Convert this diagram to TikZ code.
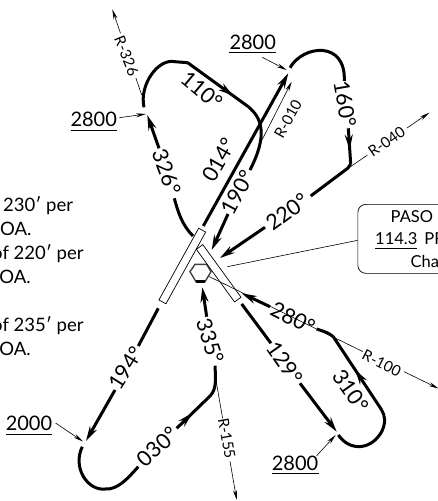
\documentclass[tikz,border=0pt]{standalone}
\usepackage{fontspec}
\setmainfont{Lato}
\usepackage{tikz}
\usetikzlibrary{
	arrows.meta,
	calc,
	decorations.markings
}
\tikzset{
	track/.style={line width=3pt, line cap=butt},
	tip/.style={-{Stealth[length=15pt,width=8pt]}},
	thin leader/.style={line width=0.6pt, -{Stealth[length=10pt,width=4pt]}},
	plain leader/.style={line width=0.6pt},
	midtip/.style={postaction={decorate}, decoration={markings, mark=at position #1 with {\arrow{Stealth[length=15pt,width=8pt]}}}},
	heading/.style={font=\fontsize{21.5}{22}\selectfont, inner sep=0pt},
	radial/.style={font=\fontsize{15}{16}\selectfont, inner sep=0pt},
	altitude/.style={font=\fontsize{20}{20}\selectfont, inner sep=0pt},
	note/.style={font=\fontsize{18.5}{19}\selectfont, inner sep=0pt, anchor=base west},
	boxtext/.style={font=\fontsize{16.5}{17}\selectfont, inner sep=0pt, anchor=base west},
	strip/.style={draw, fill=white, line width=0.7pt, inner sep=0pt, minimum height=8pt}
}
\begin{document}
\begin{tikzpicture}[x=1pt, y=-1pt]
        \useasboundingbox (0,0) rectangle (438,501);
        \clip (0,0) rectangle (438,501);

        % notes on the left, cut by the edge
        \node[note] (noteA) at (3,211) {230′ per};
        \node[note] (noteB) at (0,235) {OA.};
        \node[note] (noteC) at (-8,259) {of 220′ per};
        \node[note] (noteD) at (-13,283) {COA.};
        \node[note] (noteE) at (-8,331) {of 235′ per};
        \node[note] (noteF) at (-13,355) {COA.};

        % runways and station
        \node[strip, minimum width=82pt, rotate=61] (RWa) at (182.3,266) {};
        \draw[line width=1.4pt, black!75] (190,271.7) -- (195,264.3) -- (206.7,264.3) -- (211,271.7) -- (205,281.7) -- (196,281.7) -- cycle;
        \draw[line width=3pt] (196,281) -- (205,281);
        \node[strip, minimum width=65pt, rotate=-54] (RWb) at (218.7,273.3) {};

        % radials
        \coordinate (R100s) at (209,276.5);
        \coordinate (R100e) at (438.5,388.5);
        \node[radial, rotate=-27] (R100) at (381.7,363.3) {R-100};
        \draw[plain leader] (R100s) -- ($(R100s)!0.67!(R100e)$);
        \draw[thin leader] ($(R100s)!0.85!(R100e)$) -- (R100e);

        \coordinate (R326s) at (141.7,95);
        \coordinate (R326e) at (112.3,9.3);
        \coordinate (R326m) at (126.5,56);
        \draw[plain leader] (R326s) -- ($(R326s)!0.2!(R326e)$);
        \draw[thin leader] ($(R326s)!0.72!(R326e)$) -- (R326e);
        \node[radial, rotate=-68] (R326) at (R326m) {R-326};

        \coordinate (R010s) at (262,140);
        \coordinate (R010e) at (291.7,81.7);
        \node[radial, rotate=61] (R010) at (288,119) {R-010};
        \draw[thin leader] (R010s) -- (R010e);

        \coordinate (R040s) at (350,167);
        \coordinate (R040e) at (429.3,112.7);
        \draw[plain leader] (R040s) -- ($(R040s)!0.22!(R040e)$);
        \draw[thin leader] ($(R040s)!0.72!(R040e)$) -- (R040e);
        \node[radial, rotate=35] (R040) at (386.7,141.7) {R-040};

        \coordinate (R155s) at (216.5,383);
        \coordinate (R155e) at (236.7,500);
        \draw[plain leader] (R155s) -- ($(R155s)!0.30!(R155e)$);
        \draw[thin leader] ($(R155s)!0.67!(R155e)$) -- (R155e);
        \node[radial, rotate=-80] (R155) at (226.7,438.3) {R-155};

        % 326 and 110, then 190
        \coordinate (Aa) at (193,236);
        \coordinate (Ab) at (174.3,198.3);
        \coordinate (Ac) at (159,148.3);
        \coordinate (Ad) at (147.3,115);
        \coordinate (Ae) at (144,107.3);
        \coordinate (Af) at (187.7,62.7);
        \coordinate (Ag) at (248.3,106.7);
        \coordinate (Ah) at (250,170);
        \coordinate (Ai) at (228,214);
        \coordinate (Aj) at (211.7,250);
        \draw[track] (Aa) .. controls (182,225) and (178,212) .. (Ab);
        \draw[track, tip] (Ac) -- (Ad);
        \draw[track] (Ae) .. controls (139,85) and (158,58) .. (175,61.7) -- (Af);
        \draw[track, midtip=0.75] (Af) -- (Ag);
        \draw[track] (Ag) .. controls (262,118) and (268,135) .. (Ah);
        \draw[track, tip] (Ai) -- (Aj);
        \node[heading, rotate=-70] (hA) at (166.5,172) {326°};
        \node[heading, rotate=-40] (hB) at (201.7,90) {110°};
        \node[heading, rotate=62] (hC) at (238,192) {190°};

        % 014 and 160, then 220
        \coordinate (Ba) at (203.3,226);
        \coordinate (Bb) at (288.3,73.3);
        \coordinate (Bc) at (290,67.7);
        \coordinate (Bd) at (344.3,81);
        \coordinate (Be) at (348.3,128.3);
        \coordinate (Bf) at (350.7,164);
        \coordinate (Bg) at (310.7,196);
        \coordinate (Bh) at (265,227.3);
        \coordinate (Bi) at (220,258);
        \draw[track, tip] (Ba) -- (Bb);
        \draw[track] (Bc) .. controls (303,45) and (346,40) .. (Bd);
        \draw[track, midtip=0.6] (Be) -- (Bf);
        \draw[track] (Bf) -- (348,168) -- (Bg);
        \draw[track, tip] (Bh) -- (Bi);
        \node[heading, rotate=60] (hD) at (219,160) {014°};
        \node[heading, rotate=-80] (hE) at (345,104) {160°};
        \node[heading, rotate=36] (hF) at (287,212) {220°};

        % 129 and 310, then 280
        \coordinate (Ca) at (241.7,304);
        \coordinate (Cb) at (271,343.3);
        \coordinate (Cc) at (300,383.3);
        \coordinate (Cd) at (336.7,431.7);
        \coordinate (Ce) at (338.3,435);
        \coordinate (Cf) at (381.7,410);
        \coordinate (Cg) at (316.7,329);
        \coordinate (Ch) at (270,306.7);
        \coordinate (Ci) at (241.7,293.3);
        \draw[track] (Ca) -- (Cb);
        \draw[track, tip] (Cc) -- (Cd);
        \draw[track] (Ce) .. controls (350,452) and (372,450) .. (382,431) .. controls (386,422) and (385,416) .. (Cf);
        \draw[track, midtip=0.55] (Cf) -- (333.3,336.7);
        \draw[track] (333.3,336.7) .. controls (328,332) and (322,331) .. (Cg);
        \draw[track, tip] (Ch) -- (Ci);
        \node[heading, rotate=-55] (hG) at (285,363) {129°};
        \node[heading, rotate=-55] (hH) at (351,391) {310°};
        \node[heading, rotate=-27] (hI) at (293,318) {280°};

        % 194 and 030, then 335
        \coordinate (Da) at (158.3,308.3);
        \coordinate (Db) at (138.3,346);
        \coordinate (Dc) at (115,390);
        \coordinate (Dd) at (86,441);
        \coordinate (De) at (82.3,446.7);
        \coordinate (Df) at (138.3,466.7);
        \coordinate (Dg) at (176.7,428.3);
        \coordinate (Dh) at (215,365.7);
        \coordinate (Di) at (206.7,316.7);
        \coordinate (Dj) at (202.3,287.3);
        \draw[track] (Da) -- (Db);
        \draw[track, tip] (Dc) -- (Dd);
        \draw[track] (De) .. controls (72,468) and (88,491) .. (105,489) .. controls (118,490) and (128,478) .. (Df);
        \draw[track, midtip=0.5] (Dg) -- (208,398);
        \draw[track] (208,398) .. controls (216,391) and (216,384) .. (Dh);
        \draw[track, tip] (Di) -- (Dj);
        \node[heading, rotate=58] (hJ) at (126,368) {194°};
        \node[heading, rotate=43] (hK) at (157.5,447) {030°};
        \node[heading, rotate=-72] (hL) at (210,341) {335°};

        % altitudes
        \node[altitude] (altA) at (93.7,119) {2800};
        \node[altitude] (altB) at (252.7,42.3) {2800};
        \node[altitude] (altC) at (295,463.3) {2800};
        \node[altitude] (altD) at (29,423) {2000};
        \draw[line width=0.8pt] (70.7,130) -- (116.7,130);
        \draw[line width=0.8pt] (229,52.3) -- (276,52.3);
        \draw[line width=0.8pt] (272,473.3) -- (319,473.3);
        \draw[line width=0.8pt] (6,434.5) -- (52,434.5);
        \coordinate (altAtip) at (146,114);
        \coordinate (altBtip) at (286.7,70);
        \coordinate (altCtip) at (335.7,435);
        \coordinate (altDtip) at (83,441.5);
        \draw[thin leader] (119.3,117.7) -- (altAtip);
        \draw[thin leader] (262.3,57.3) -- (altBtip);
        \draw[thin leader] (316.7,455.7) -- (altCtip);
        \draw[thin leader] (55.5,423) -- (altDtip);

        % navaid box
        \node[draw, rounded corners=8pt, line width=0.7pt, minimum width=160pt, minimum height=69pt, anchor=north west] (Box) at (357.5,204) {};
        \coordinate (Station) at (227.3,266.7);
        \draw[plain leader] (Box.west) ++(0,1.5) -- (Station);
        \node[boxtext] (boxA) at (390.5,222) {PASO R};
        \node[boxtext] (boxB) at (375,244.5) {114.3\hspace{7pt}PRB};
        \node[boxtext] (boxC) at (410.5,267) {Channel};
        \draw[line width=0.8pt] (375,248.5) -- (417,248.5);
\end{tikzpicture}
\end{document}
